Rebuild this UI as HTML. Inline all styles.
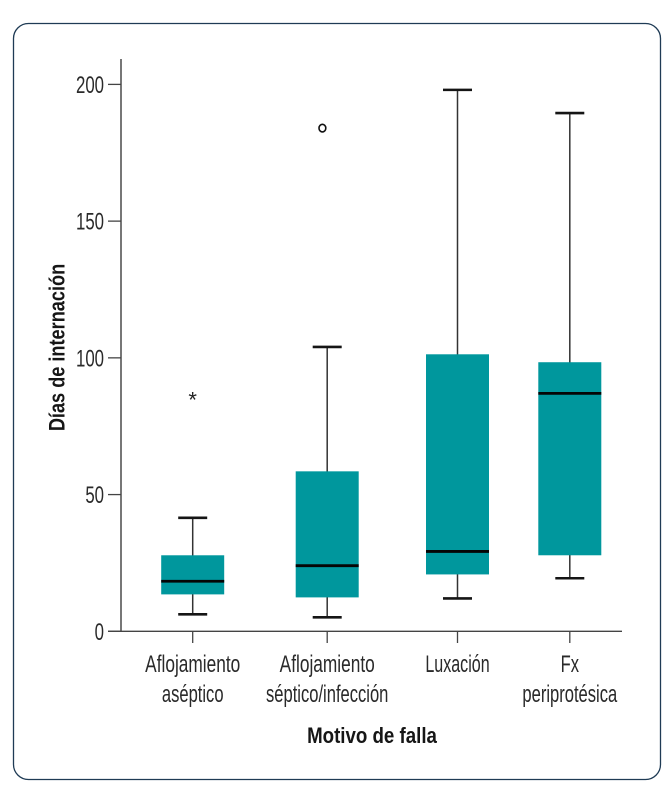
<!DOCTYPE html>
<html lang="es">
<head>
<meta charset="utf-8">
<title>Días de internación por motivo de falla</title>
<style>
  html, body { margin: 0; padding: 0; background: #fff; }
  svg { display: block; }
  text { font-family: "Liberation Sans", sans-serif; }
</style>
</head>
<body>
<svg id="chart" xmlns="http://www.w3.org/2000/svg" width="670" height="800" viewBox="0 0 670 800">
  <rect width="670" height="800" fill="#ffffff"/>
  <rect x="13.5" y="23.5" width="647" height="756" rx="15" ry="15" fill="#ffffff" stroke="#1f3b55" stroke-width="1.3"/>
  <g id="plot"></g>
  <text transform="translate(64.5,347.5) rotate(-90) scale(0.825,1)" text-anchor="middle" font-size="22" font-weight="bold" fill="#161616">Días de internación</text>
  <text transform="translate(372,743) scale(0.85,1)" text-anchor="middle" font-size="22" font-weight="bold" fill="#161616">Motivo de falla</text>
</svg>
<script>
const categoryLines = [["Aflojamiento", "aséptico"], ["Aflojamiento", "séptico/infección"], ["Luxación"], ["Fx", "periprotésica"]];
const whiskerLow = [6.2, 5.1, 12, 19.4];
const q1Values = [13.5, 12.4, 20.8, 27.8];
const medianValues = [18.3, 24, 29.2, 87];
const q3Values = [27.8, 58.5, 101.3, 98.4];
const whiskerHigh = [41.5, 104, 198, 189.5];
const extremeValues = [85.5, null, null, null];
const outlierValues = [null, 184, null, null];
const yTicks = [0, 50, 100, 150, 200];

const plot = document.getElementById('plot');
const NS = 'http://www.w3.org/2000/svg';

function yScale(v) { return 631.3 - v * 2.7345; }
function xScale(i) { return [192.7, 327.2, 457.5, 569.8][i]; }
function labelSquash(line) {
  if (line === 'Aflojamiento') return 0.72;
  if (line === 'Luxación') return 0.67;
  return 0.69;
}

function make(tag, attrs, parent) {
  const el = document.createElementNS(NS, tag);
  for (const k in attrs) el.setAttribute(k, attrs[k]);
  (parent || plot).appendChild(el);
  return el;
}

const yAxis = make('line', { x1: 121, x2: 121, y1: 59, y2: 631.3, stroke: '#555555', 'stroke-width': 1.6 });



const xAxis = make('line', { x1: 108, x2: 622, y1: 631.3, y2: 631.3, stroke: '#444444', 'stroke-width': 1.4 });



yTicks.forEach(function (t) {
  const y = yScale(t);
  const tick = make('line', { x1: 108, x2: 121, y1: y, y2: y, stroke: '#444444', 'stroke-width': 1.3 });
  
  
  const label = make('text', { transform: 'translate(104,' + (y + 8.6) + ') scale(0.7,1)', 'text-anchor': 'end', 'font-size': 24, fill: '#2a2a2a' });
  
  
  label.textContent = String(t);
});

categoryLines.forEach(function (lines, i) {
  const cx = xScale(i);
  const boxW = 63;

  const tick = make('line', { x1: cx, x2: cx, y1: 631.3, y2: 643, stroke: '#444444', 'stroke-width': 1.3 });
  
  

  lines.forEach(function (line, j) {
    const label = make('text', { transform: 'translate(' + cx + ',' + (672 + j * 30) + ') scale(' + labelSquash(line) + ',1)', 'text-anchor': 'middle', 'font-size': 24, fill: '#2a2a2a' });
    
    
    label.textContent = line;
  });

  const whisker = make('line', { x1: cx, x2: cx, y1: yScale(whiskerHigh[i]), y2: yScale(whiskerLow[i]), stroke: '#333333', 'stroke-width': 1.5 });
  
  

  const capHigh = make('line', { x1: cx - 14.5, x2: cx + 14.5, y1: yScale(whiskerHigh[i]), y2: yScale(whiskerHigh[i]), stroke: '#151515', 'stroke-width': 2.6 });
  
  

  const capLow = make('line', { x1: cx - 14.5, x2: cx + 14.5, y1: yScale(whiskerLow[i]), y2: yScale(whiskerLow[i]), stroke: '#151515', 'stroke-width': 2.6 });
  
  

  const box = make('rect', { x: cx - boxW / 2, y: yScale(q3Values[i]), width: boxW, height: yScale(q1Values[i]) - yScale(q3Values[i]), fill: '#00979d' });
  
  

  const median = make('line', { x1: cx - boxW / 2, x2: cx + boxW / 2, y1: yScale(medianValues[i]), y2: yScale(medianValues[i]), stroke: '#050505', 'stroke-width': 2.8 });
  
  

  if (extremeValues[i] !== null) {
    const star = make('text', { x: cx, y: yScale(extremeValues[i]) + 10, 'text-anchor': 'middle', 'font-size': 22, fill: '#222222' });
    
    
    star.textContent = '*';
  }

  if (outlierValues[i] !== null) {
    const dot = make('ellipse', { cx: cx - 4.8, cy: yScale(outlierValues[i]), rx: 3.4, ry: 3.8, fill: 'none', stroke: '#111111', 'stroke-width': 1.6 });
    
    
  }
});
</script>
</body>
</html>
